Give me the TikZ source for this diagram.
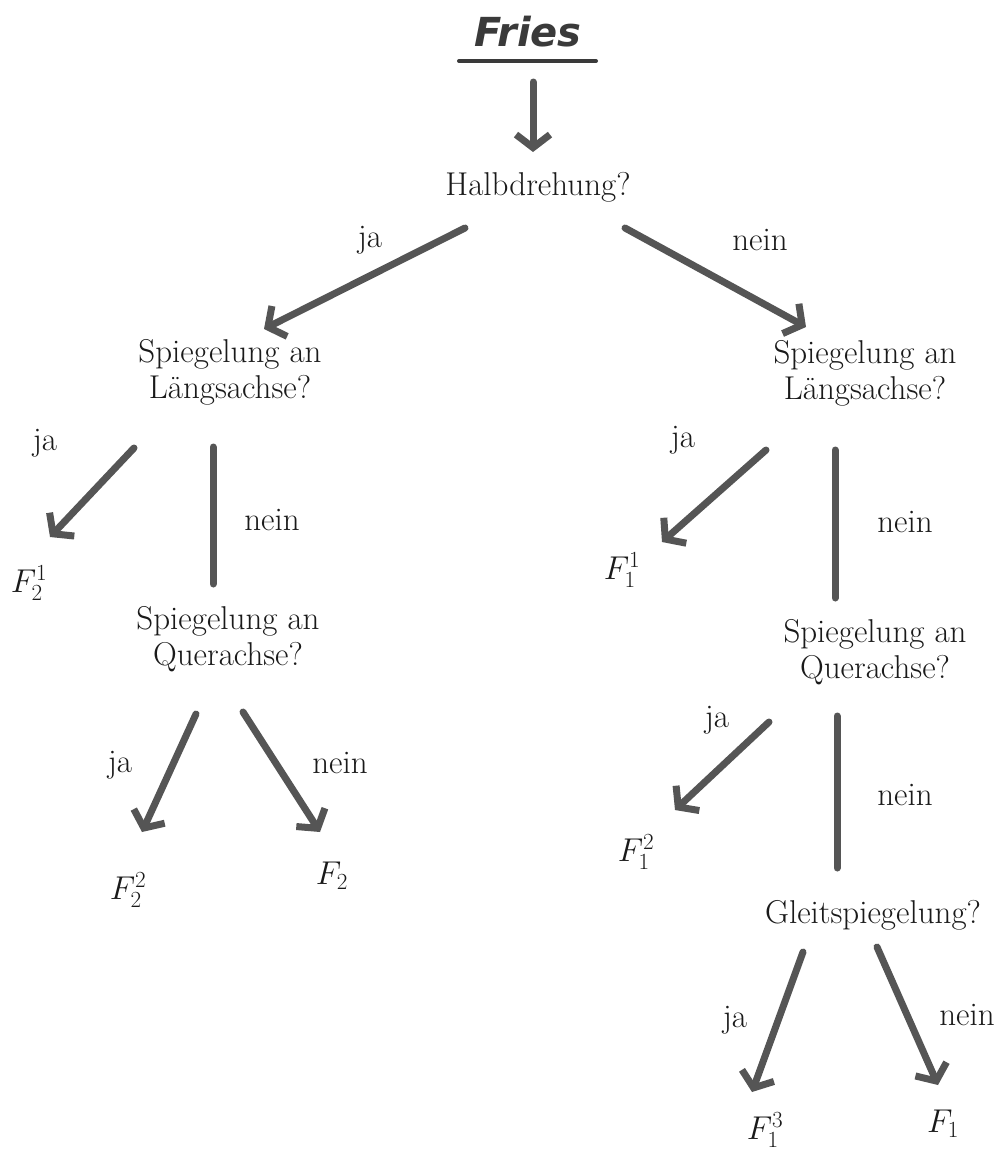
\RequirePackage{fix-cm}
\documentclass[tikz,border=0pt]{standalone}
\usepackage{fontspec}
\newfontfamily\handfont{DejaVu Sans}
\usetikzlibrary{arrows.meta}
\definecolor{arrowgray}{HTML}{555555}
\definecolor{titlegray}{HTML}{3A3A3A}
\definecolor{textblack}{HTML}{1A1A1A}
\begin{document}
\begin{tikzpicture}[x=1pt,y=-1pt,
  txt/.style={font=\fontsize{33}{36}\selectfont, text=textblack, inner sep=0pt, align=center},
  arr/.style={draw=arrowgray, line width=7pt, line cap=round, -{Straight Barb[length=13pt,width=34pt]}},
  bar/.style={draw=arrowgray, line width=7pt, line cap=round}]
\useasboundingbox[fill=white] (0,0) rectangle (1005,1156);

% title
\node[font=\handfont\bfseries\itshape\fontsize{40}{40}\selectfont, text=titlegray, inner sep=0pt] (fries) at (528,32) {Fries};
\coordinate (ulA) at (459,61);
\coordinate (ulB) at (596,61);
\draw[titlegray, line width=4pt, line cap=round] (ulA) -- (ulB);

% question nodes
\node[txt, anchor=base] (halb) at (538,195) {Halbdrehung?};
\node[txt] (lL) at (230,372) {Spiegelung an\\Längsachse?};
\node[txt] (rL) at (865,373) {Spiegelung an\\Längsachse?};
\node[txt] (lQ) at (228,639) {Spiegelung an\\Querachse?};
\node[txt] (rQ) at (875,652) {Spiegelung an\\Querachse?};
\node[txt, anchor=base] (gl) at (873,923) {Gleitspiegelung?};

% results
\node[txt] (F21) at (29,583) {$F_2^1$};
\node[txt] (F22) at (128,890) {$F_2^2$};
\node[txt] (F2) at (332,876) {$F_2$};
\node[txt] (F11) at (622,570) {$F_1^1$};
\node[txt] (F12) at (636,852) {$F_1^2$};
\node[txt] (F13) at (765,1130) {$F_1^3$};
\node[txt] (F1) at (943,1124) {$F_1$};

% labels
\node[txt] (j1) at (370,240) {ja};
\node[txt] (n1) at (760,240) {nein};
\node[txt] (j2) at (45,443) {ja};
\node[txt] (n2) at (272,520) {nein};
\node[txt] (j3) at (120,765) {ja};
\node[txt] (n3) at (340,763) {nein};
\node[txt] (j4) at (683,440) {ja};
\node[txt] (n4) at (905,522) {nein};
\node[txt] (j5) at (717,720) {ja};
\node[txt] (n5) at (905,795) {nein};
\node[txt] (j6) at (735,1020) {ja};
\node[txt] (n6) at (967,1015) {nein};

% connector end points
\coordinate (t0) at (533,82);   \coordinate (t1) at (533,152);
\coordinate (a0) at (465,228);  \coordinate (a1) at (264,329);
\coordinate (b0) at (625,228);  \coordinate (b1) at (806,327);
\coordinate (c0) at (134,448);  \coordinate (c1) at (50,537);
\coordinate (d0) at (213,447);  \coordinate (d1) at (213,584);
\coordinate (e0) at (196,714);  \coordinate (e1) at (142,832);
\coordinate (f0) at (243,712);  \coordinate (f1) at (320,832);
\coordinate (g0) at (766,450);  \coordinate (g1) at (662,542);
\coordinate (h0) at (835,450);  \coordinate (h1) at (835,598);
\coordinate (i0) at (769,722);  \coordinate (i1) at (675,810);
\coordinate (k0) at (837,716);  \coordinate (k1) at (837,868);
\coordinate (l0) at (803,952);  \coordinate (l1) at (752,1092);
\coordinate (m0) at (877,947);  \coordinate (m1) at (938,1085);

\draw[arr] (t0) -- (t1);
\draw[arr] (a0) -- (a1);
\draw[arr] (b0) -- (b1);
\draw[arr] (c0) -- (c1);
\draw[bar] (d0) -- (d1);
\draw[arr] (e0) -- (e1);
\draw[arr] (f0) -- (f1);
\draw[arr] (g0) -- (g1);
\draw[bar] (h0) -- (h1);
\draw[arr] (i0) -- (i1);
\draw[bar] (k0) -- (k1);
\draw[arr] (l0) -- (l1);
\draw[arr] (m0) -- (m1);
\end{tikzpicture}
\end{document}
